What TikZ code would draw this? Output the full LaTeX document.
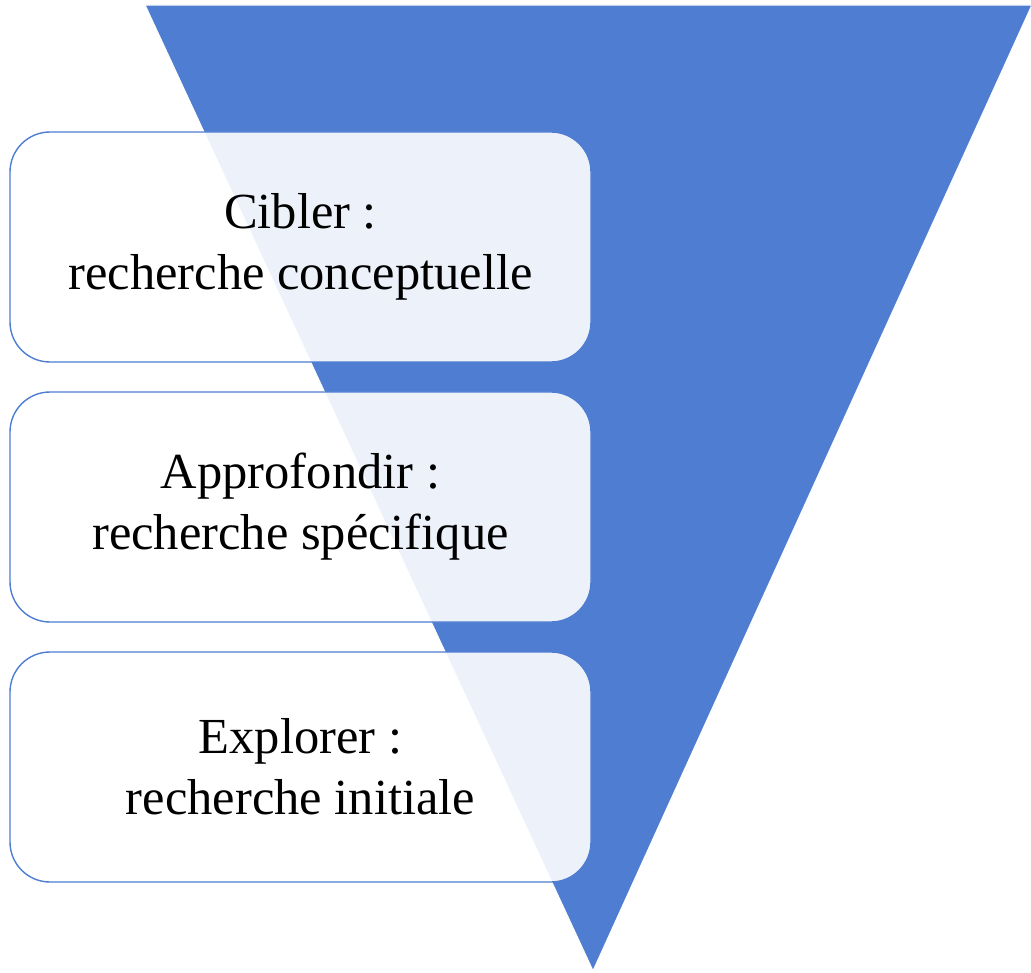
\documentclass[tikz,border=0pt]{standalone}
\usepackage{fontspec}
\setmainfont{Liberation Serif}
\definecolor{funnel}{RGB}{78,125,209}
\definecolor{boxline}{RGB}{78,125,209}
\tikzset{
  stagebox/.style={draw=boxline, line width=1.4pt, fill=white, fill opacity=0.9, text opacity=1,
    rounded corners=40pt, minimum width=581pt, minimum height=230pt, inner sep=0pt,
    align=center, font=\fontsize{50.5}{61}\selectfont, text=black}
}
\begin{document}
\begin{tikzpicture}[x=1pt,y=-1pt]
\useasboundingbox (0,0) rectangle (1031,973);
\coordinate (tl) at (145,5);
\coordinate (tr) at (1032,5);
\coordinate (ap) at (593,971);
\fill[funnel, draw=white, line width=1.2pt] (tl) -- (tr) -- (ap) -- cycle;
\node[stagebox] (c) at (300.5,247) {Cibler :\\recherche conceptuelle};
\node[stagebox] (a) at (300.5,507) {Approfondir :\\recherche spécifique};
\node[stagebox] (e) at (300.5,767) {Explorer :\\recherche initiale};
\end{tikzpicture}
\end{document}
